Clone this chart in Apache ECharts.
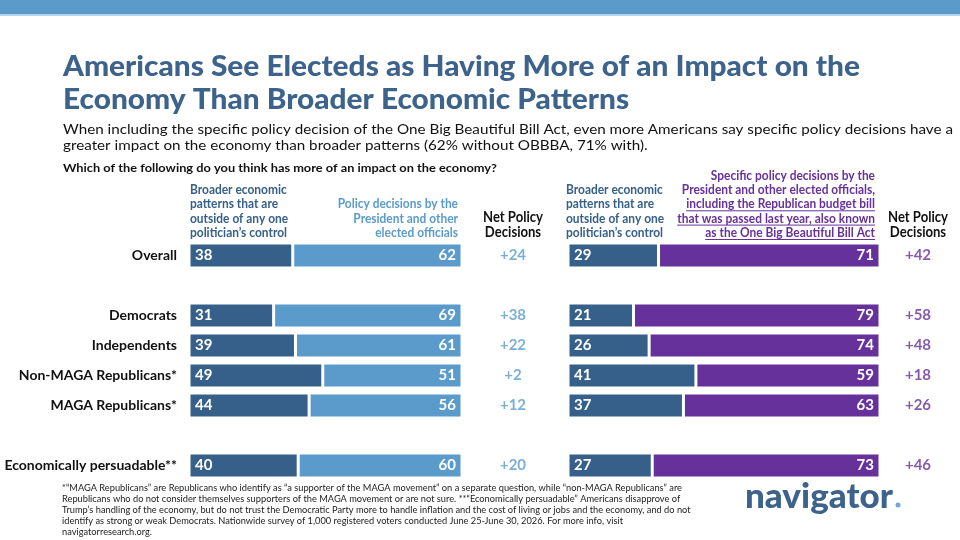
<!DOCTYPE html>
<html>
<head>
<meta charset="utf-8">
<script src="https://cdn.jsdelivr.net/npm/echarts@6/dist/echarts.min.js"></script>
<style>
html, body { margin: 0; padding: 0; background: #fff; }
#chart { width: 960px; height: 540px; }
</style>
</head>
<body>
<div id="chart"></div>
<script>
// rows (blank ones are the gaps between groups)
const groups = ['Overall', ' ', 'Democrats', 'Independents', 'Non-MAGA Republicans*', 'MAGA Republicans*', '  ', 'Economically persuadable**'];
// without OBBBA
const broaderA = [38, null, 31, 39, 49, 44, null, 40];
const policyA = [62, null, 69, 61, 51, 56, null, 60];
// with OBBBA
const broaderB = [29, null, 21, 26, 41, 37, null, 27];
const obbbaB = [71, null, 79, 74, 59, 63, null, 73];

const netA = policyA.map((v, i) => v == null ? null : v - broaderA[i]);
const netB = obbbaB.map((v, i) => v == null ? null : v - broaderB[i]);

const darkBlue = '#36608a';
const lightBlue = '#5b9bcc';
const purple = '#67319b';
const titleBlue = '#3d638d';

const ctx = document.createElement('canvas').getContext('2d');
function measure(str, font) {
    ctx.font = font;
    return ctx.measureText(str).width;
}
function fit(str, font, target) {
    return target / measure(str, font);
}
function txt(str, x, y, font, fill, align, sx) {
    return {
        type: 'text', x: x, y: y, scaleX: sx || 1,
        style: { text: str, font: font, fill: fill, align: align || 'left', verticalAlign: 'middle' }
    };
}

const graphics = [];
graphics.push({ type: 'rect', shape: { x: 0, y: 0, width: 960, height: 14 }, style: { fill: '#5b9bcc' } });
graphics.push({ type: 'rect', shape: { x: 0, y: 14, width: 960, height: 2 }, style: { fill: '#b9d5ec' } });

// title
const titleFont = '900 29px Lato';
const titleSx = fit('Americans See Electeds as Having More of an Impact on the', titleFont, 797);
graphics.push(txt('Americans See Electeds as Having More of an Impact on the', 63, 67, titleFont, titleBlue, 'left', titleSx));
graphics.push(txt('Economy Than Broader Economic Patterns', 63, 100, titleFont, titleBlue, 'left', titleSx));

// subtitle
const subFont = '13px Lato';
const sub1 = 'When including the specific policy decision of the One Big Beautiful Bill Act, even more Americans say specific policy decisions have a';
const subSx = fit(sub1, subFont, 890);
graphics.push(txt(sub1, 63, 130, subFont, '#111', 'left', subSx));
graphics.push(txt('greater impact on the economy than broader patterns (62% without OBBBA, 71% with).', 63, 146, subFont, '#111', 'left', subSx));

const qFont = 'bold 10.5px Lato';
graphics.push(txt('Which of the following do you think has more of an impact on the economy?', 63, 169, qFont, '#111', 'left', fit('Which of the following do you think has more of an impact on the economy?', qFont, 434)));

// column headers
const hFont = 'bold 13px Lato';
const hSx = fit('politician\u2019s control', hFont, 97);
const broaderHead = ['Broader economic', 'patterns that are', 'outside of any one', 'politician\u2019s control'];
const policyHead = ['Policy decisions by the', 'President and other', 'elected officials'];
const obbbaHead = ['Specific policy decisions by the', 'President and other elected officials,', 'including the Republican budget bill', 'that was passed last year, also known', 'as the One Big Beautiful Bill Act'];
const headY = [176, 190, 204.3, 218.6, 233];
broaderHead.forEach((s, i) => {
    graphics.push(txt(s, 190, headY[i + 1], hFont, darkBlue, 'left', hSx));
    graphics.push(txt(s, 566, headY[i + 1], hFont, darkBlue, 'left', hSx));
});
policyHead.forEach((s, i) => {
    graphics.push(txt(s, 458, headY[i + 2], hFont, lightBlue, 'right', hSx));
});
obbbaHead.forEach((s, i) => {
    graphics.push(txt(s, 875, headY[i], hFont, purple, 'right', hSx));
    if (i >= 2) {
        const w = measure(s, hFont) * hSx;
        graphics.push({ type: 'line', shape: { x1: 875 - w, y1: headY[i] + 6.5, x2: 875, y2: headY[i] + 6.5 }, style: { stroke: purple, lineWidth: 1 } });
    }
});
const nFont = 'bold 14.5px Lato';
const nSx = fit('Net Policy', nFont, 60);
[513, 918].forEach(cx => {
    graphics.push(txt('Net Policy', cx, 217, nFont, '#111', 'center', nSx));
    graphics.push(txt('Decisions', cx, 232.5, nFont, '#111', 'center', nSx));
});

// footnote
const fFont = '9px Lato';
const foot = [
    '*\u201cMAGA Republicans\u201d are Republicans who identify as \u201ca supporter of the MAGA movement\u201d on a separate question, while \u201cnon-MAGA Republicans\u201d are',
    'Republicans who do not consider themselves supporters of the MAGA movement or are not sure. **\u201cEconomically persuadable\u201d Americans disapprove of',
    'Trump\u2019s handling of the economy, but do not trust the Democratic Party more to handle inflation and the cost of living or jobs and the economy, and do not',
    'identify as strong or weak Democrats. Nationwide survey of 1,000 registered voters conducted June 25-June 30, 2026. For more info, visit',
    'navigatorresearch.org.'
];
const fSx = fit(foot[0], fFont, 620);
foot.forEach((s, i) => graphics.push(txt(s, 62, 488 + i * 11, fFont, '#222', 'left', fSx)));

// logo
const logoFont = '900 35px Lato';
const logoSx = fit('navigator', logoFont, 148);
graphics.push(txt('navigator', 745, 497, logoFont, titleBlue, 'left', logoSx));
graphics.push({ type: 'circle', shape: { cx: 898, cy: 505, r: 2.5 }, style: { fill: '#6fa9d9' } });

const gridTop = 240.5;
const gridH = 240;

function catAxis(gridIndex, showLabel) {
    return {
        type: 'category', gridIndex: gridIndex, data: groups, inverse: true,
        axisLine: { show: false }, axisTick: { show: false },
        axisLabel: { show: showLabel, color: '#111', fontFamily: 'Lato', fontWeight: 'bold', fontSize: 14, margin: 12 }
    };
}
function valAxis(gridIndex, min, max) {
    return { type: 'value', gridIndex: gridIndex, min: min, max: max, show: false, splitLine: { show: false } };
}
function bar(name, data, color, axis, pos) {
    return {
        name: name, type: 'bar', stack: 's' + axis, xAxisIndex: axis, yAxisIndex: axis,
        data: data, barWidth: 25,
        itemStyle: { color: color, borderColor: '#fff', borderWidth: 1.5 },
        label: { show: true, position: pos, distance: 6, color: '#fff', fontFamily: 'Lato', fontWeight: 'bold', fontSize: 15 },
        silent: true
    };
}
function net(data, color, axis) {
    return {
        type: 'scatter', xAxisIndex: axis, yAxisIndex: axis, symbolSize: 1,
        itemStyle: { color: 'transparent' },
        data: data.map((v, i) => v == null ? null : [0, i, v]).filter(d => d),
        label: {
            show: true, position: 'inside', color: color, fontFamily: 'Lato', fontWeight: 'bold', fontSize: 15,
            formatter: p => '+' + p.value[2]
        },
        silent: true
    };
}

const chart = echarts.init(document.getElementById('chart'), null, { renderer: 'canvas' });
chart.setOption({
    animation: false,
    grid: [
        { left: 189, width: 273, top: gridTop, height: gridH },
        { left: 568, width: 312, top: gridTop, height: gridH },
        { left: 480, width: 66, top: gridTop, height: gridH },
        { left: 885, width: 66, top: gridTop, height: gridH }
    ],
    xAxis: [valAxis(0, 0, 100), valAxis(1, 0, 100), valAxis(2, -1, 1), valAxis(3, -1, 1)],
    yAxis: [catAxis(0, true), catAxis(1, false), catAxis(2, false), catAxis(3, false)],
    series: [
        bar('Broader economic patterns', broaderA, darkBlue, 0, 'insideLeft'),
        bar('Policy decisions', policyA, lightBlue, 0, 'insideRight'),
        bar('Broader economic patterns', broaderB, darkBlue, 1, 'insideLeft'),
        bar('Specific policy decisions (OBBBA)', obbbaB, purple, 1, 'insideRight'),
        net(netA, lightBlue, 2),
        net(netB, purple, 3)
    ],
    graphic: graphics
});
</script>
</body>
</html>
